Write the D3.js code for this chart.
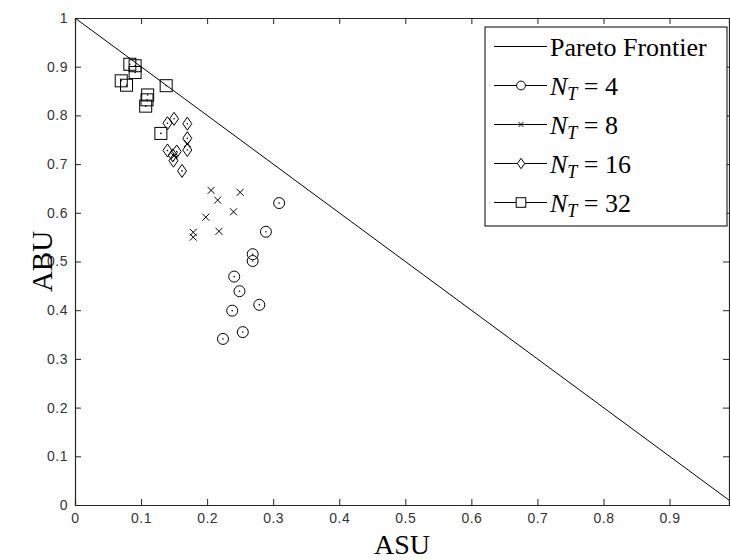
<!DOCTYPE html>
<html>
<head>
<meta charset="utf-8">
<script src="https://cdn.jsdelivr.net/npm/d3@7"></script>
<style>
  body { margin: 0; background: #fff; }
  svg { display: block; }
</style>
</head>
<body>
<svg id="chart" width="730" height="560"></svg>
<script>
// values
let xTicks = [0, 0.1, 0.2, 0.3, 0.4, 0.5, 0.6, 0.7, 0.8, 0.9]
let yTicks = [0, 0.1, 0.2, 0.3, 0.4, 0.5, 0.6, 0.7, 0.8, 0.9, 1]
let paretoASU = [0, 1]
let paretoABU = [1, 0]

let nt4ASU = [0.309, 0.289, 0.269, 0.269, 0.241, 0.249, 0.279, 0.238, 0.254, 0.224]
let nt4ABU = [0.620, 0.561, 0.515, 0.501, 0.469, 0.439, 0.411, 0.399, 0.355, 0.341]

let nt8ASU = [0.206, 0.216, 0.250, 0.240, 0.198, 0.218, 0.179, 0.179, 0.170, 0.150]
let nt8ABU = [0.646, 0.626, 0.642, 0.602, 0.591, 0.562, 0.560, 0.550, 0.742, 0.717]

let nt16ASU = [0.150, 0.140, 0.170, 0.170, 0.170, 0.140, 0.154, 0.148, 0.149, 0.162]
let nt16ABU = [0.793, 0.784, 0.783, 0.753, 0.729, 0.728, 0.726, 0.718, 0.707, 0.686]

let nt32ASU = [0.083, 0.091, 0.091, 0.070, 0.078, 0.138, 0.110, 0.109, 0.107, 0.130]
let nt32ABU = [0.905, 0.902, 0.888, 0.871, 0.862, 0.861, 0.842, 0.832, 0.819, 0.763]

let legendLabels = ['Pareto Frontier', '4', '8', '16', '32']

let svg = d3.select('#chart')
let plotLeft = 75, plotRight = 729, plotTop = 18, plotBottom = 505

let x = d3.scaleLinear().domain([0, 0.99]).range([plotLeft, plotRight])
let y = d3.scaleLinear().domain([0, 1]).range([plotBottom, plotTop])

svg.append('clipPath').attr('id', 'clip')
  .append('rect').attr('x', plotLeft).attr('y', plotTop)
  .attr('width', plotRight - plotLeft).attr('height', plotBottom - plotTop)

// axes, MATLAB style: ticks inside on all four sides
let axisColor = '#262626'
let tickFont = '"Liberation Sans", Arial, sans-serif'

svg.append('g').attr('transform', `translate(0,${plotBottom})`)
  .call(d3.axisBottom(x).tickValues(xTicks).tickSize(-6).tickPadding(8).tickFormat(d3.format('')))
svg.append('g').attr('transform', `translate(0,${plotTop})`)
  .call(d3.axisTop(x).tickValues(xTicks).tickSize(-6).tickFormat(''))
svg.append('g').attr('transform', `translate(${plotLeft},0)`)
  .call(d3.axisLeft(y).tickValues(yTicks).tickSize(-6).tickPadding(7).tickFormat(d3.format('')))
svg.append('g').attr('transform', `translate(${plotRight},0)`)
  .call(d3.axisRight(y).tickValues(yTicks).tickSize(-6).tickFormat(''))

svg.selectAll('.domain').attr('stroke', axisColor).attr('stroke-width', 1.2)
svg.selectAll('.tick line').attr('stroke', axisColor)
svg.selectAll('.tick text')
  .attr('fill', '#333')
  .style('font-family', tickFont)
  .style('font-size', '14px')
  .style('letter-spacing', '0.5px')

// axis labels
let serif = '"Liberation Serif", "Times New Roman", serif'
svg.append('text')
  .attr('x', (plotLeft + plotRight) / 2).attr('y', 554)
  .attr('text-anchor', 'middle')
  .style('font-family', serif)
  .style('font-size', '28px')
  .text('ASU')
svg.append('text')
  .attr('transform', `translate(52,${(plotTop + plotBottom) / 2}) rotate(-90)`)
  .attr('text-anchor', 'middle')
  .style('font-family', serif)
  .style('font-size', '29px')
  .text('ABU')

// pareto frontier
let plot = svg.append('g').attr('clip-path', 'url(#clip)')
plot.append('path')
  .datum(d3.zip(paretoASU, paretoABU))
  .attr('d', d3.line().x(d => x(d[0])).y(d => y(d[1])))
  .attr('fill', 'none').attr('stroke', '#000').attr('stroke-width', 1)

// marker shapes
let markers = {
  circle: (g, s) => g.append('circle').attr('r', 5.5 * s),
  cross: (g, s) => g.append('path').attr('d', `M${-3.5 * s},${-3.5 * s}L${3.5 * s},${3.5 * s}M${-3.5 * s},${3.5 * s}L${3.5 * s},${-3.5 * s}`),
  diamond: (g, s) => g.append('path').attr('d', `M0,${-6.5 * s}L${4.5 * s},0L0,${6.5 * s}L${-4.5 * s},0Z`),
  square: (g, s) => g.append('rect').attr('x', -6 * s).attr('y', -6 * s).attr('width', 12 * s).attr('height', 12 * s)
}

let series = [
  { xs: nt4ASU, ys: nt4ABU, shape: 'circle', dot: true },
  { xs: nt8ASU, ys: nt8ABU, shape: 'cross', dot: false },
  { xs: nt16ASU, ys: nt16ABU, shape: 'diamond', dot: true },
  { xs: nt32ASU, ys: nt32ABU, shape: 'square', dot: true }
]

series.forEach(s => {
  let pts = plot.append('g').selectAll('g')
    .data(d3.zip(s.xs, s.ys))
    .enter().append('g')
    .attr('transform', d => `translate(${x(d[0])},${y(d[1])})`)
  pts.each(function () {
    let g = d3.select(this)
    markers[s.shape](g, 1).attr('fill', 'none').attr('stroke', '#000').attr('stroke-width', 1)
    if (s.dot) g.append('circle').attr('r', 0.8).attr('fill', '#000')
  })
})

// legend
let legend = svg.append('g')
legend.append('rect')
  .attr('x', 485).attr('y', 27).attr('width', 242).attr('height', 199)
  .attr('fill', '#fff').attr('stroke', '#000').attr('stroke-width', 1)

legendLabels.forEach((lab, i) => {
  let ly = 46.5 + i * 39
  let row = legend.append('g').attr('transform', `translate(0,${ly})`)
  row.append('line').attr('x1', 494).attr('x2', 547).attr('y1', 0).attr('y2', 0)
    .attr('stroke', '#000').attr('stroke-width', 1)
  if (i > 0) {
    let s = series[i - 1]
    let m = row.append('g').attr('transform', 'translate(521,0)')
    let sc = s.shape === 'cross' ? 0.7 : 0.8
    markers[s.shape](m, sc).attr('fill', '#fff').attr('stroke', '#000').attr('stroke-width', 1)
  }
  let t = row.append('text').attr('x', 550).attr('y', 9)
    .style('font-family', serif).style('font-size', '26px')
  if (i === 0) {
    t.text(lab)
  } else {
    t.append('tspan').style('font-style', 'italic').text('N')
    t.append('tspan').style('font-style', 'italic').style('font-size', '18px').attr('dy', 5).text('T')
    t.append('tspan').attr('dy', -5).text(' = ' + lab)
  }
})
</script>
</body>
</html>
